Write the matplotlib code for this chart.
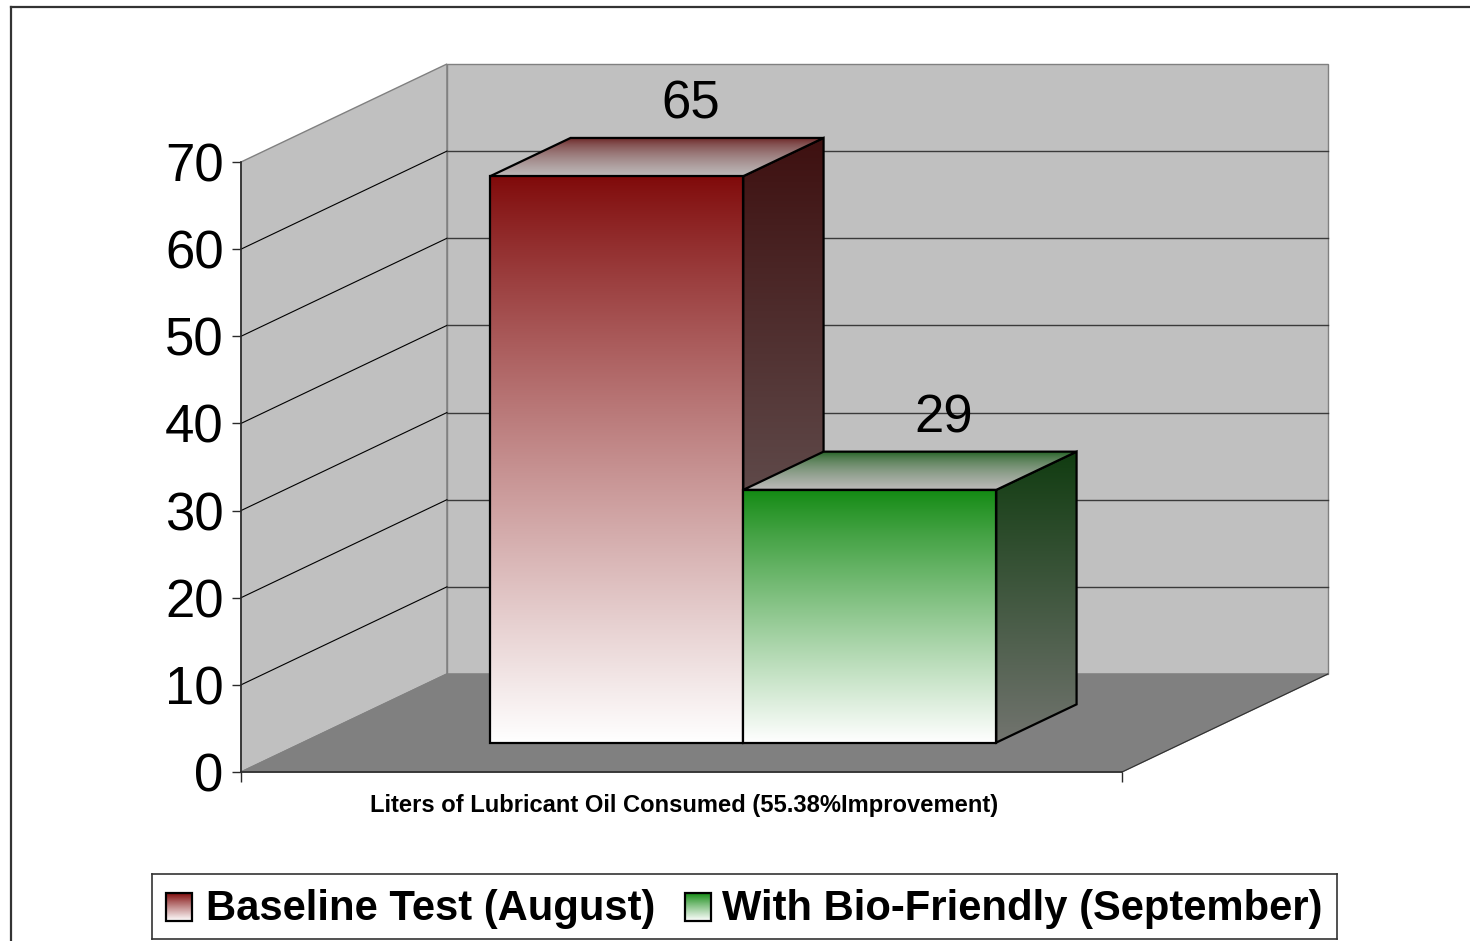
import numpy as np
import matplotlib
matplotlib.use('Agg')
import matplotlib.pyplot as plt
from matplotlib.patches import Polygon
from matplotlib.lines import Line2D
from matplotlib.colors import to_rgb

plt.rcParams['font.family'] = ['Liberation Sans', 'DejaVu Sans']

series = ['Baseline Test (August)', 'With Bio-Friendly (September)']
values = [65, 29]
category = 'Liters of Lubricant Oil Consumed (55.38%Improvement)'
yticks = [0, 10, 20, 30, 40, 50, 60, 70]

# per series colours: front top, side top/bottom, top face back
front_top = ['#800a0a', '#138a13']
side_top = ['#3e1010', '#113c11']
side_bot = ['#767272', '#72746f']
top_back = ['#5e0c0c', '#0e560e']
top_front = '#bdbaba'

W, H = 1470, 941
fig = plt.figure(figsize=(W / 100, H / 100), dpi=100)
ax = fig.add_axes([0, 0, 1, 1])

# 3d box: front plane x in [XL, XR], values 0..VMAX, depth 0..1
XL, XR, VMAX = -1.241, 2.241, 70
DX, DY = 0.814, 11.25      # oblique shift of full depth, data units
D0, D1 = 0.30, 0.69        # depth span of the bars


def P(x, v, d):
    return (x + DX * d, v + DY * d)


def face(pts, fc, ec, z, lw=1.0):
    ax.add_patch(Polygon([P(*p) for p in pts], closed=True, fc=fc, ec=ec,
                         lw=lw, zorder=z))


def grad_face(pts, c_top, c_bot, z, gamma=1.0):
    pts = np.array([P(*p) for p in pts])
    t = np.linspace(0, 1, 256)[:, None] ** gamma
    col = (1 - t) * np.array(to_rgb(c_top)) + t * np.array(to_rgb(c_bot))
    img = ax.imshow(col[:, None, :], aspect='auto', origin='upper',
                    interpolation='bilinear', zorder=z,
                    extent=(pts[:, 0].min(), pts[:, 0].max(),
                            pts[:, 1].min(), pts[:, 1].max()))
    img.set_clip_path(Polygon(pts, closed=True, transform=ax.transData))
    ax.add_patch(Polygon(pts, closed=True, fc='none', ec='black', lw=1.6,
                         zorder=z + 0.05))


# walls and floor
face([(XL, 0, 0), (XL, 0, 1), (XL, VMAX, 1), (XL, VMAX, 0)], '#c0c0c0', '#808080', 1)
face([(XL, 0, 1), (XR, 0, 1), (XR, VMAX, 1), (XL, VMAX, 1)], '#c0c0c0', '#808080', 1)
for t in yticks[1:-1]:
    ax.plot(*zip(P(XL, t, 0), P(XL, t, 1)), color='black', lw=0.8, zorder=1.5)
    ax.plot(*zip(P(XL, t, 1), P(XR, t, 1)), color='#3a3a3a', lw=1.0, zorder=1.5)
face([(XL, 0, 0), (XR, 0, 0), (XR, 0, 1), (XL, 0, 1)], '#808080', '#808080', 2)
ax.plot(*zip(P(XR, 0, 0), P(XR, 0, 1)), color='#303030', lw=0.8, zorder=2.1)

# bars
for i, v in enumerate(values):
    x0, x1 = i - 0.5, i + 0.5
    z = 3 + i
    grad_face([(x1, 0, D0), (x1, 0, D1), (x1, v, D1), (x1, v, D0)],
              side_top[i], side_bot[i], z)
    grad_face([(x0, v, D0), (x1, v, D0), (x1, v, D1), (x0, v, D1)],
              top_back[i], top_front, z + 0.2, gamma=0.55)
    grad_face([(x0, 0, D0), (x1, 0, D0), (x1, v, D0), (x0, v, D0)],
              front_top[i], '#ffffff', z + 0.4, gamma=0.9)
    ax.annotate(str(v), xy=P(i, v, 0.66), xytext=(0, 16), textcoords='offset points',
                ha='center', va='baseline', fontsize=38, zorder=10)

# axes: left value axis and front floor edge
ppx, ppy = 253.0, 8.714
ax.set_xlim(XL - 241 / ppx, XL + (W - 241) / ppx)
ax.set_ylim(-(H - 772) / ppy, 772 / ppy)
for s in ['top', 'right']:
    ax.spines[s].set_visible(False)
ax.spines['left'].set_position(('data', XL))
ax.spines['left'].set_bounds(0, VMAX)
ax.spines['bottom'].set_position(('data', 0))
ax.spines['bottom'].set_bounds(XL, XR)
for s in ['left', 'bottom']:
    ax.spines[s].set_color('#2a2a2a')
    ax.spines[s].set_linewidth(1.2)
    ax.spines[s].set_zorder(2.5)
ax.set_yticks(yticks)
ax.set_yticklabels([str(t) for t in yticks])
ax.tick_params(axis='y', labelsize=38, length=6.5, width=1, pad=6, color='#2a2a2a')
ax.set_xticks([XL, XR])
ax.set_xticklabels(['', ''])
ax.tick_params(axis='x', length=7.5, width=1, color='#2a2a2a')
ax.annotate(category, xy=(0.5, 0), xytext=(2, -24), textcoords='offset points',
            ha='center', va='center', fontsize=17.1, fontweight='bold')

# outer frame
fig.add_artist(Line2D([11 / W, 1], [1 - 7 / H, 1 - 7 / H], color='#333333', lw=1.6))
fig.add_artist(Line2D([11 / W, 11 / W], [0, 1 - 7 / H], color='#333333', lw=1.6))

# legend
lg = fig.add_axes([152 / W, 2 / H, 1185 / W, 65 / H])
lg.set_xticks([])
lg.set_yticks([])
for s in lg.spines.values():
    s.set_color('#333333')
    s.set_linewidth(1.2)
hx = [14, 533]
tx = [54, 570]
for i, name in enumerate(series):
    t = np.linspace(0, 1, 64)[:, None] ** 0.9
    col = (1 - t) * np.array(to_rgb(front_top[i])) + t * np.array(to_rgb('#ffffff'))
    lg.imshow(col[:, None, :], aspect='auto', origin='upper',
              extent=(hx[i], hx[i] + 26, 18, 46), zorder=2)
    lg.add_patch(Polygon([(hx[i], 18), (hx[i] + 26, 18), (hx[i] + 26, 46), (hx[i], 46)],
                         closed=True, fc='none', ec='black', lw=1.6, zorder=3))
    lg.text(tx[i], 30, name, ha='left', va='center', fontsize=30.1, fontweight='bold')
lg.set_xlim(0, 1185)
lg.set_ylim(0, 65)

fig.savefig('out.png', dpi=100)
